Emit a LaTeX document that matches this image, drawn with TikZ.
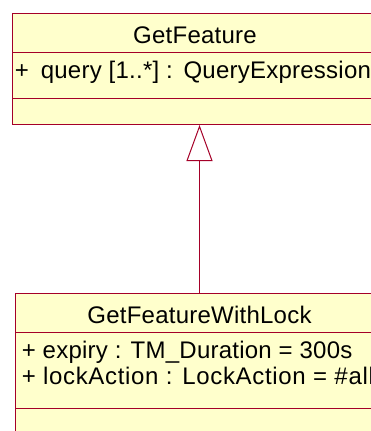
\documentclass[tikz,border=0pt]{standalone}
\usepackage{fontspec}
\setmainfont{Liberation Sans}[LetterSpace=1]
\usetikzlibrary{arrows.meta}
\definecolor{umlborder}{RGB}{165,0,40}
\definecolor{umlfill}{RGB}{255,255,204}
\begin{document}
\begin{tikzpicture}[x=1pt,y=-1pt,
  classbox/.style={draw=umlborder, fill=umlfill, line width=1pt, rectangle, inner sep=0pt, anchor=north west},
  compline/.style={draw=umlborder, line width=1pt},
  txt/.style={font=\fontsize{24}{26}\selectfont, inner sep=0pt, text=black},
  generalization/.style={draw=umlborder, line width=1pt, -{Triangle[open, length=36pt, width=26pt, fill=white]}}]
\useasboundingbox (0,0) rectangle (371,431);
\clip (0,0) rectangle (371,431);
% GetFeature class
\node[classbox, minimum width=374pt, minimum height=111pt] (gf) at (12,13) {};
\draw[compline] (gf.west |- 0,52) -- (gf.east |- 0,52);
\draw[compline] (gf.west |- 0,98) -- (gf.east |- 0,98);
\node[txt, anchor=base] (gfname) at (195,43) {GetFeature};
\node[txt, anchor=base west] (gfattr) at (14.6,78) {+\hspace{12pt}query [1..*] :\hspace{1.5pt} QueryExpression};
% GetFeatureWithLock class
\node[classbox, minimum width=368pt, minimum height=160pt] (gfwl) at (15,293) {};
\draw[compline] (gfwl.west |- 0,332) -- (gfwl.east |- 0,332);
\draw[compline] (gfwl.west |- 0,408) -- (gfwl.east |- 0,408);
\node[txt, anchor=base] (gfwlname) at (199.5,323) {GetFeatureWithLock};
\node[txt, anchor=base west] (gfwlattr1) at (21.6,358) {+ expiry : TM\_Duration = 300s};
\node[txt, anchor=base west, font=\fontsize{24}{26}\selectfont\addfontfeature{LetterSpace=2.8}] (gfwlattr2) at (21.6,384) {+ lockAction : LockAction = \#all};
% generalization
\draw[generalization] (gfwl.north) -- (gf.south);
\end{tikzpicture}
\end{document}
